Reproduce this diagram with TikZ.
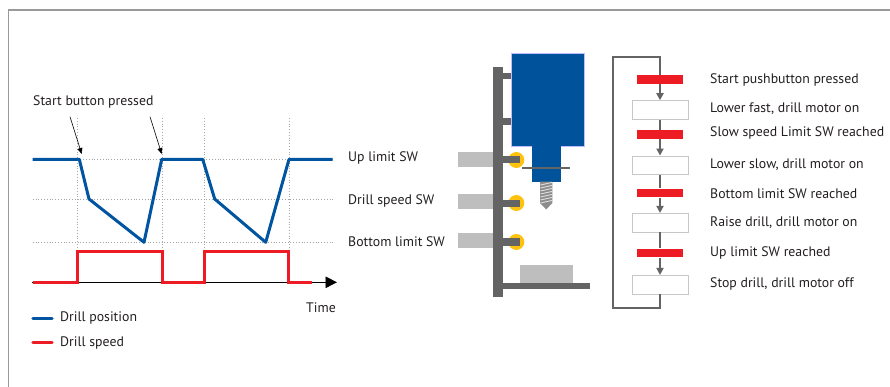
\documentclass[tikz,border=0pt]{standalone}
\usepackage{fontspec}
\setmainfont{PT Sans}
\usetikzlibrary{arrows.meta}
\definecolor{framec}{HTML}{9A9A9A}
\definecolor{txt}{HTML}{231F20}
\definecolor{pblue}{HTML}{0054A0}
\definecolor{pred}{HTML}{ED1C24}
\definecolor{dgray}{HTML}{646464}
\definecolor{lgray}{HTML}{BEBEBE}
\definecolor{swy}{HTML}{FFC20E}
\definecolor{mblue}{HTML}{00529B}
\begin{document}
\begin{tikzpicture}[x=1pt,y=-1pt,
  lbl/.style={anchor=west, inner sep=0pt, text=txt, font=\fontsize{13.8}{16}\selectfont},
  gridl/.style={black!35, dotted, line width=0.8pt},
  posl/.style={pblue, line width=3pt, line join=round},
  spdl/.style={pred, line width=3pt, line join=miter},
  redbar/.style={fill=pred, minimum width=46pt, minimum height=8.7pt, inner sep=0pt, draw=none},
  stepbox/.style={draw=black!22, fill=white, minimum width=56pt, minimum height=18.7pt, inner sep=0pt, line width=0.8pt},
  flow/.style={dgray, line width=2pt},
  arr/.style={-{Triangle[length=7pt,width=7pt]}},
  swbox/.style={fill=lgray},
]
\useasboundingbox (0,0) rectangle (890,387);
% frame
\draw[framec, line width=1.5pt] (8.5,387) -- (8.5,10) -- (890,10);

% ---------- chart ----------
\foreach \yy in {159.3,199,242.3} \draw[gridl] (32.7,\yy) -- (332.7,\yy);
\foreach \xx in {77.3,162.3,204.3,289} \draw[gridl] (\xx,118) -- (\xx,282);
\coordinate (ax0) at (32,282.3);
\coordinate (ax1) at (337,282.3);
\draw[black, line width=0.9pt, -{Triangle[length=11.5pt,width=11.5pt]}] (ax0) -- (ax1);
\draw[spdl] (32.7,282.3) -- (77.8,282.3) -- (77.8,251) -- (162.3,251) -- (162.3,282.3)
  -- (204.3,282.3) -- (204.3,251) -- (288.3,251) -- (288.3,282.3) -- (311.7,282.3);
\draw[posl] (32.7,159.3) -- (79.3,159.3) -- (89,199) -- (144,242.3) -- (161.7,159.3)
  -- (202.7,159.3) -- (214.7,199) -- (265.7,242.3) -- (289,159.3) -- (332.7,159.3);
\node[lbl] (start) at (33,101.7) {Start button pressed};
\coordinate (a1s) at (70,116.7);
\coordinate (a1e) at (81.7,154);
\coordinate (a2s) at (150,116.7);
\coordinate (a2e) at (161.7,154);
\draw[black, line width=0.6pt, -{Triangle[length=6pt,width=5pt]}] (a1s) -- (a1e);
\draw[black, line width=0.6pt, -{Triangle[length=6pt,width=5pt]}] (a2s) -- (a2e);
\node[lbl] (time) at (306,308) {Time};
% legend
\coordinate (lb1) at (33,318.3); \coordinate (lb2) at (52,318.3);
\coordinate (lr1) at (33,342.7); \coordinate (lr2) at (52,342.7);
\draw[pblue, line width=3.5pt, line cap=round] (lb1) -- (lb2);
\draw[pred, line width=3.5pt, line cap=round] (lr1) -- (lr2);
\node[lbl] (legpos) at (60,318.3) {Drill position};
\node[lbl] (legspd) at (60,342.7) {Drill speed};

% ---------- drill machine ----------
\fill[swbox] (458,152) rectangle (493.3,166.7);
\fill[swbox] (458,194) rectangle (493.3,208.7);
\fill[swbox] (458,232.7) rectangle (493.3,247.7);
\fill[dgray] (493.3,67.3) rectangle (502.7,296.7);
\fill[dgray] (493.3,282.7) rectangle (590,289.3);
\fill[dgray] (502,72.7) rectangle (511.5,79.3);
\fill[dgray] (502,118) rectangle (511.5,124.7);
\fill[mblue] (510.7,53.3) rectangle (584.3,146.7);
\draw[blue!25, line width=0.4pt] (510.7,53.3) rectangle (584.3,146.7);
\fill[mblue] (531.7,146) rectangle (560.7,181.7);
% drill bit
\fill[black!45] (540,181.7) -- (552.3,181.7) -- (552.3,203) -- (546.2,209.5) -- (540,203) -- cycle;
\foreach \k in {0,...,6} \draw[white!75!gray, line width=0.9pt] (540.5,185+3*\k) -- (551.8,182.5+3*\k);
\draw[dgray, line width=2pt] (522.3,168.3) -- (570,168.3);
% switches
\fill[swy] (516.3,160) circle (8);
\fill[swy] (516.3,203) circle (8);
\fill[swy] (516.3,242) circle (8);
\fill[dgray] (502,156.3) rectangle (520,163.3);
\fill[dgray] (502,200) rectangle (520,206.7);
\fill[dgray] (502,238.3) rectangle (520,245.7);
% workpiece
\fill[lgray] (520,265) rectangle (572.7,282.7);
\node[lbl] (upsw) at (348,158.3) {Up limit SW};
\node[lbl] (spsw) at (348,200.7) {Drill speed SW};
\node[lbl] (btsw) at (348,242) {Bottom limit SW};

% ---------- flowchart ----------
\node[redbar] (b1) at (660,79.7) {};
\node[stepbox] (s1) at (660,110) {};
\node[redbar] (b2) at (660,134.3) {};
\node[stepbox] (s2) at (660,165.3) {};
\node[redbar] (b3) at (660,193) {};
\node[stepbox] (s3) at (660,222.7) {};
\node[redbar] (b4) at (660,253) {};
\node[stepbox] (s4) at (660,284.7) {};
\coordinate (lb) at (612.7,307.7);
\coordinate (lt) at (612.7,56.7);
\coordinate (rt) at (660,56.7);
\draw[flow, line join=miter] (s4.south) |- (lb) -- (lt) -- (rt) -- (b1.north);
\draw[flow, arr] (b1) -- (s1);
\draw[flow] (s1) -- (b2);
\draw[flow, arr] (b2) -- (s2);
\draw[flow] (s2) -- (b3);
\draw[flow, arr] (b3) -- (s3);
\draw[flow] (s3) -- (b4);
\draw[flow, arr] (b4) -- (s4);
\node[lbl] (t1) at (710,79.7) {Start pushbutton pressed};
\node[lbl] (t2) at (710,108.7) {Lower fast, drill motor on};
\node[lbl] (t3) at (710,132.7) {Slow speed Limit SW reached};
\node[lbl] (t4) at (710,164.3) {Lower slow, drill motor on};
\node[lbl] (t5) at (710,193.3) {Bottom limit SW reached};
\node[lbl] (t6) at (710,222.3) {Raise drill, drill motor on};
\node[lbl] (t7) at (710,252.7) {Up limit SW reached};
\node[lbl] (t8) at (710,284.3) {Stop drill, drill motor off};
\end{tikzpicture}
\end{document}
